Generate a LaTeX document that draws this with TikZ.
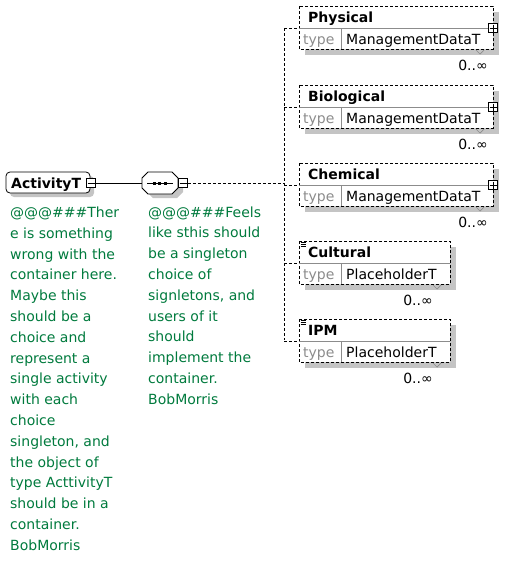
\documentclass[tikz,border=0pt]{standalone}
\usepackage{fontspec}
\setmainfont{DejaVu Sans}
\definecolor{notegreen}{RGB}{0,122,61}
\definecolor{shadowgray}{RGB}{196,196,196}
\definecolor{typegray}{RGB}{140,140,140}
\begin{document}
\begin{tikzpicture}[x=1pt,y=-1pt,
  shadowfill/.style={fill=shadowgray,draw=none},
  elembox/.style={draw=black,fill=white,dash pattern=on 3pt off 2pt,line width=0.8pt},
  sepline/.style={draw=typegray,line width=0.8pt},
  conn/.style={draw=black,dash pattern=on 3pt off 2pt,line width=0.8pt},
  solidconn/.style={draw=black,line width=0.8pt},
  iconbox/.style={draw=black,fill=white,line width=0.8pt,minimum size=9pt,inner sep=0pt},
  titletext/.style={font=\fontsize{14}{16}\selectfont\bfseries,anchor=base west,inner sep=0pt},
  typetext/.style={font=\fontsize{14}{16}\selectfont,text=typegray,anchor=base west,inner sep=0pt},
  valtext/.style={font=\fontsize{14}{16}\selectfont,anchor=base west,inner sep=0pt},
  occtext/.style={font=\fontsize{14}{16}\selectfont,anchor=base east,inner sep=0pt},
  notetext/.style={font=\fontsize{14}{20.8}\selectfont,text=notegreen,align=left,anchor=base west,inner sep=0pt}
]
\useasboundingbox (0,0) rectangle (515,563);

% ---------- ActivityT ----------
\fill[shadowfill,rounded corners=4pt] (10,176) rectangle (94,197);
\draw[draw=black,fill=white,line width=0.8pt,rounded corners=4pt] (6,172) rectangle (90,193);
\node[titletext] (act) at (11,188) {ActivityT};
\node[iconbox] (actminus) at (91,183) {};
\draw[line width=0.7pt] (87.5,183) -- (94.5,183);

% ---------- sequence compositor ----------
\fill[shadowfill] (153,177) -- (177,177) -- (183,183) -- (183,192) -- (177,198) -- (153,198) -- (147,192) -- (147,183) -- cycle;
\draw[draw=black,fill=white,line width=0.8pt] (148,172) -- (172,172) -- (178,178) -- (178,188) -- (172,194) -- (148,194) -- (142,188) -- (142,178) -- cycle;
\coordinate (seqL) at (142,183);
\draw[line width=0.8pt] (147,183) -- (173,183);
\foreach \xx in {154,159.5,165} \fill (\xx-1.5,181.5) rectangle (\xx+1.5,184.5);
\node[iconbox] (seqminus) at (183,183) {};
\draw[line width=0.7pt] (179.5,183) -- (186.5,183);
\draw[solidconn] (actminus.east) -- (seqL);

% ---------- connector spine ----------
\coordinate (spineTop) at (284,28);
\coordinate (spineBot) at (284,340);
\coordinate (spineMid) at (284,183);
\draw[conn] (seqminus.east) -- (spineMid);
\draw[conn] (spineTop) -- (spineBot);

% ---------- element boxes ----------
% #1 name, #2 top y, #3 right x, #4 type, #5 plus?(1/0), #6 doc icon (1/0), #7 occurrence right x
\newcommand{\elem}[7]{%
  \fill[shadowfill] (305,#2+6) rectangle (#3+6,#2+49);
  \draw[elembox] (299,#2) rectangle (#3,#2+43);
  \draw[sepline] (299,#2+22) -- (#3,#2+22);
  \draw[sepline] (341,#2+22) -- (341,#2+43);
  \node[titletext] (t#1) at (308,#2+16) {#1};
  \node[typetext] (ty#1) at (303,#2+38) {type};
  \node[valtext] (v#1) at (346,#2+38) {#4};
  \coordinate (in#1) at (299,#2+22);
  \draw[conn] (284,#2+22) -- (in#1);
  \ifnum#5=1
    \node[iconbox] (plus#1) at (#3,#2+22) {};
    \draw[line width=0.7pt] (#3-3.5,#2+22) -- (#3+3.5,#2+22);
    \draw[line width=0.7pt] (#3,#2+18.5) -- (#3,#2+25.5);
  \fi
  \ifnum#6=1
    \foreach \yy in {1.5,3.5,5.5} \draw[line width=0.7pt] (300.5,#2+\yy) -- (306,#2+\yy);
  \fi
  \draw[draw=typegray,line width=0.7pt] (#3-17,#2+44) -- (#3-13,#2+48) -- (#3-9,#2+44);
  \node[occtext] (o#1) at (#7,#2+64) {0..∞};
}
\elem{Physical}{6}{493}{ManagementDataT}{1}{0}{488}
\elem{Biological}{85}{493}{ManagementDataT}{1}{0}{488}
\elem{Chemical}{163}{493}{ManagementDataT}{1}{0}{488}
\elem{Cultural}{241}{450}{PlaceholderT}{0}{1}{433}
\elem{IPM}{319}{450}{PlaceholderT}{0}{1}{433}

% ---------- notes ----------
\node[notetext] (note1) at (10,550.3) {@@@\#\#\#Ther\\e is something\\wrong with the\\container here.\\Maybe this\\should be a\\choice and\\represent a\\single activity\\with each\\choice\\singleton, and\\the object of\\type ActtivityT\\should be in a\\container.\\BobMorris};
\node[notetext] (note2) at (148,404.2) {@@@\#\#\#Feels\\like sthis should\\be a singleton\\choice of\\signletons, and\\users of it\\should\\implement the\\container.\\BobMorris};
\end{tikzpicture}
\end{document}
